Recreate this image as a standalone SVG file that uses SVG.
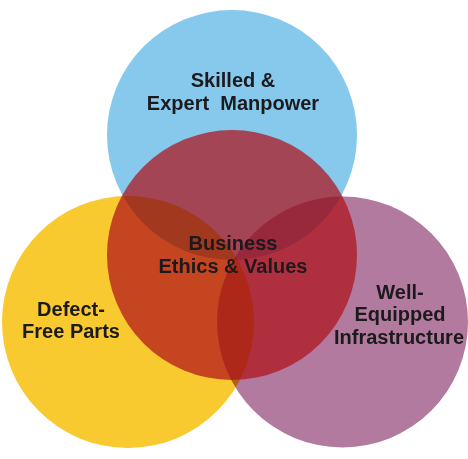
<svg xmlns="http://www.w3.org/2000/svg" width="468" height="459" viewBox="0 0 468 459">
<style>
.c{mix-blend-mode:multiply}
.t{font-family:"Liberation Sans",Arial,sans-serif;font-weight:bold;font-size:20px;fill:#1c1a1c;text-anchor:middle}
</style>
<rect width="468" height="459" fill="#ffffff"/>
<g id="skilled">
<circle class="c" cx="232" cy="135" r="125" fill="#86C9EC"/>
<text class="t" x="233" y="87">Skilled &amp;</text>
<text class="t" x="233" y="110" xml:space="preserve">Expert  Manpower</text>
</g>
<g id="defect-free">
<circle class="c" cx="128" cy="322" r="126" fill="#F9C930"/>
<text class="t" x="71" y="316">Defect-</text>
<text class="t" x="71" y="338">Free Parts</text>
</g>
<g id="infrastructure">
<circle class="c" cx="342.5" cy="322" r="125.5" fill="#B27A9F"/>
<text class="t" x="400" y="299">Well-</text>
<text class="t" x="400" y="321">Equipped</text>
<text class="t" x="399" y="344">Infrastructure</text>
</g>
<g id="ethics">
<circle cx="232" cy="255" r="125" fill="#AF1219" fill-opacity="0.72"/>
<text class="t" x="233" y="250">Business</text>
<text class="t" x="233" y="273">Ethics &amp; Values</text>
</g>
<g id="connectors"/>
</svg>
